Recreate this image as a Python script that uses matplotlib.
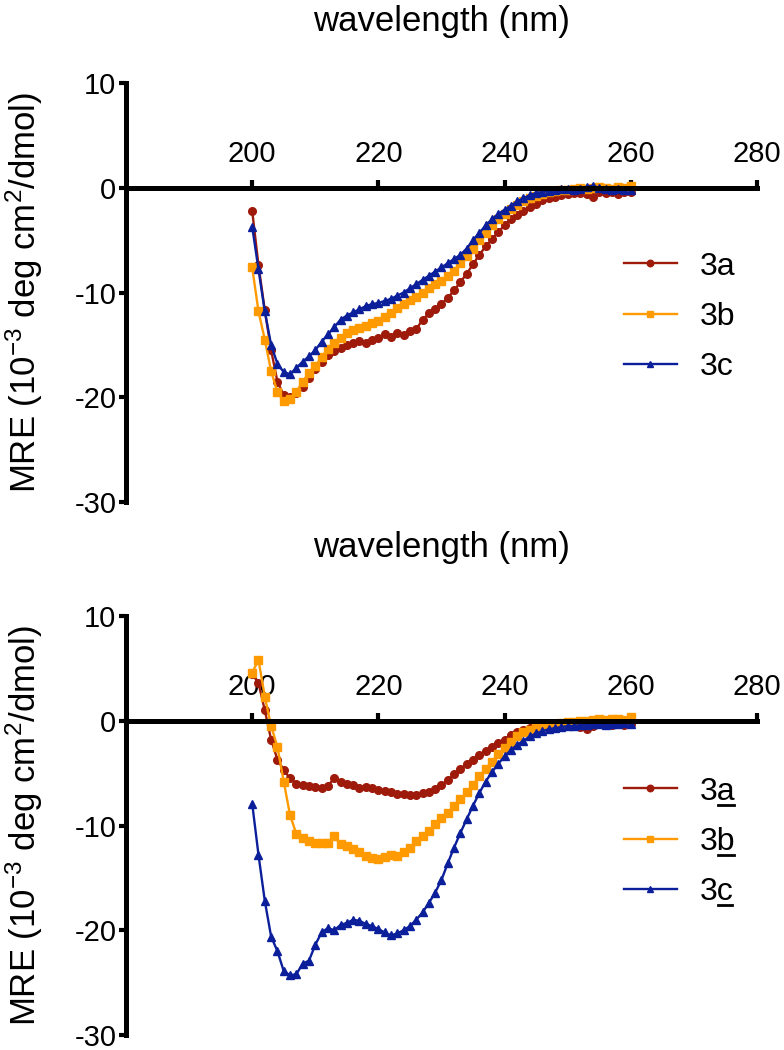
import matplotlib
matplotlib.use("Agg")
import matplotlib.pyplot as plt
import numpy as np
from matplotlib.lines import Line2D

plt.rcParams["font.family"] = ["Liberation Sans", "DejaVu Sans"]
plt.rcParams["mathtext.fontset"] = "custom"
plt.rcParams["mathtext.rm"] = "Liberation Sans"
plt.rcParams["mathtext.it"] = "Liberation Sans:italic"
plt.rcParams["axes.unicode_minus"] = False

# wavelength grid (nm)
wavelength = np.arange(200, 261)

# top panel
top_3a = [-2.2, -7.4, -11.7, -15.5, -18.5, -19.8, -20.0, -19.6, -19.0, -18.2,
          -17.3, -16.6, -16.0, -15.6, -15.3, -15.0, -14.8, -14.6, -14.8, -14.5,
          -14.3, -14.0, -14.2, -13.9, -14.1, -13.7, -13.5, -12.6, -12.0, -11.6,
          -11.1, -10.5, -9.8, -9.0, -8.2, -7.3, -6.4, -5.6, -4.9, -4.2,
          -3.6, -3.0, -2.6, -2.2, -1.8, -1.5, -1.2, -1.0, -0.9, -0.7,
          -0.6, -0.5, -0.5, -0.6, -0.9, -0.4, -0.5, -0.4, -0.6, -0.4, -0.4]
top_3b = [-7.6, -11.8, -14.5, -17.5, -19.5, -20.4, -20.2, -19.5, -18.5, -17.7,
          -17.0, -16.2, -15.4, -14.8, -14.3, -13.9, -13.6, -13.4, -13.2, -12.9,
          -12.7, -12.3, -12.0, -11.5, -11.1, -10.7, -10.4, -10.0, -9.6, -9.2,
          -8.9, -8.4, -7.9, -7.2, -6.5, -5.8, -5.0, -4.3, -3.6, -3.0,
          -2.5, -2.0, -1.6, -1.3, -1.0, -0.8, -0.6, -0.4, -0.3, -0.2,
          -0.2, -0.1, 0.0, -0.1, 0.0, 0.1, 0.0, -0.1, 0.1, 0.0, 0.2]
top_3c = [-3.7, -7.8, -11.8, -15.0, -16.8, -17.6, -17.8, -17.2, -16.6, -16.1,
          -15.5, -14.7, -14.0, -13.3, -12.6, -12.2, -11.9, -11.6, -11.3, -11.1,
          -11.0, -10.8, -10.6, -10.3, -10.0, -9.6, -9.2, -8.8, -8.4, -8.0,
          -7.6, -7.2, -6.8, -6.4, -5.8, -5.0, -4.3, -3.6, -3.0, -2.5,
          -2.1, -1.7, -1.3, -1.0, -0.7, -0.5, -0.4, -0.3, -0.2, -0.1,
          -0.1, -0.2, -0.1, 0.1, 0.2, 0.0, -0.1, -0.2, -0.1, -0.2, -0.2]

# bottom panel
bottom_3a = [4.5, 3.6, 1.0, -1.8, -3.7, -4.7, -5.5, -6.0, -6.1, -6.2,
             -6.3, -6.4, -6.2, -5.5, -5.8, -6.0, -6.1, -6.4, -6.3, -6.4,
             -6.6, -6.7, -6.8, -7.0, -7.0, -7.1, -7.1, -6.9, -6.8, -6.5,
             -6.1, -5.7, -5.1, -4.6, -4.1, -3.7, -3.3, -2.9, -2.5, -2.1,
             -1.8, -1.4, -1.1, -0.9, -0.7, -0.6, -0.5, -0.5, -0.4, -0.4,
             -0.3, -0.4, -0.6, -0.8, -0.5, -0.3, -0.2, -0.4, -0.3, -0.4, -0.3]
bottom_3b = [4.6, 5.8, 2.3, -0.5, -2.5, -5.8, -9.0, -10.8, -11.2, -11.5,
             -11.7, -11.7, -11.7, -11.0, -11.8, -12.0, -12.2, -12.5, -12.9, -13.1,
             -13.2, -13.0, -12.8, -12.9, -12.5, -12.1, -11.5, -11.0, -10.5, -9.9,
             -9.3, -8.8, -8.1, -7.5, -6.8, -6.1, -5.3, -4.6, -3.9, -3.2,
             -2.6, -2.0, -1.5, -1.1, -0.9, -0.7, -0.5, -0.4, -0.3, -0.2,
             -0.1, -0.1, 0.0, 0.0, 0.1, 0.2, 0.1, 0.2, 0.2, 0.1, 0.4]
bottom_3c = [-7.9, -12.8, -17.2, -20.6, -22.0, -23.9, -24.3, -24.2, -23.2, -22.9,
             -21.4, -20.2, -19.8, -20.0, -19.5, -19.3, -19.0, -19.1, -19.4, -19.6,
             -19.9, -20.2, -20.5, -20.3, -20.0, -19.6, -19.0, -18.3, -17.4, -16.4,
             -15.2, -13.6, -12.1, -10.7, -9.4, -8.1, -6.9, -5.8, -4.9, -4.1,
             -3.4, -2.8, -2.3, -1.9, -1.5, -1.2, -1.0, -0.8, -0.7, -0.6,
             -0.5, -0.5, -0.4, -0.4, -0.3, -0.3, -0.4, -0.3, -0.3, -0.2, -0.3]

colors = ["#9e1a0a", "#ff9a00", "#0c1f9a"]
markers = ["o", "s", "^"]
labels = ["3a", "3b", "3c"]
x_ticks = [200, 220, 240, 260, 280]
y_ticks = [10, 0, -10, -20, -30]

ylabel = r"MRE (10$^{-3}$ deg cm$^{2}$/dmol)"

fig = plt.figure(figsize=(7.84, 10.5), dpi=100)
ax_top = fig.add_axes([0.1607, 0.5219, 0.8048, 0.399])
ax_bot = fig.add_axes([0.1607, 0.0143, 0.8048, 0.399])


def style_axes(ax, series, legend_y):
    for values, label, c, m in zip(series, labels, colors, markers):
        ax.plot(wavelength, values, color=c, marker=m, ms=5.5, lw=1.7,
                label=label, clip_on=False)
    ax.set_xlim(180, 280)
    ax.set_ylim(-30, 10)
    for side in ["right", "bottom"]:
        ax.spines[side].set_visible(False)
    ax.spines["top"].set_position(("data", 0))
    ax.spines["top"].set_linewidth(3.6)
    ax.spines["left"].set_linewidth(3.6)
    ax.xaxis.tick_top()
    ax.set_xticks(x_ticks)
    ax.set_yticks(y_ticks)
    ax.tick_params(axis="x", direction="out", length=6, width=3.0, pad=8,
                   labelsize=21)
    ax.tick_params(axis="y", direction="out", length=5, width=3.0, pad=2,
                   labelsize=21)
    ax.set_ylabel(ylabel, fontsize=25)
    ax.yaxis.set_label_coords(-0.128, 0.5)
    return ax.legend(loc="center left", bbox_to_anchor=(0.79, legend_y),
                     frameon=False, fontsize=23, borderpad=0, borderaxespad=0,
                     handlelength=1.63, handletextpad=0.72, labelspacing=0.64,
                     markerscale=0.85)


style_axes(ax_top, [top_3a, top_3b, top_3c], 0.4415)
leg_bot = style_axes(ax_bot, [bottom_3a, bottom_3b, bottom_3c], 0.4606)

fig.text(0.5628, 1 - 22 / 1050, "wavelength (nm)", fontsize=25,
         ha="center", va="center")
fig.text(0.5628, 1 - 548 / 1050, "wavelength (nm)", fontsize=25,
         ha="center", va="center")

# underline the letter in the bottom legend labels (3a, 3b, 3c)
fig.canvas.draw()
renderer = fig.canvas.get_renderer()
to_fig = fig.transFigure.inverted()
for t in leg_bot.get_texts():
    bb = t.get_window_extent(renderer)
    w3, _, _ = renderer.get_text_width_height_descent(
        "3", t.get_fontproperties(), ismath=False)
    (x0, y0), (x1, _) = to_fig.transform([(bb.x0 + w3 + 1, bb.y0 + 2),
                                          (bb.x1 - 1, bb.y0 + 2)])
    fig.add_artist(Line2D([x0, x1], [y0, y0], color="black", lw=2.0,
                          transform=fig.transFigure))

fig.savefig("out.png", dpi=100)
